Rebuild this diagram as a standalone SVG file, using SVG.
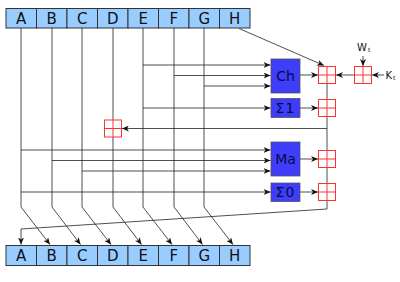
<svg xmlns="http://www.w3.org/2000/svg" width="400" height="282" viewBox="0 0 400 282">
<defs>
<marker id="ar" viewBox="-7 -3 8 6" refX="0" refY="0" markerWidth="8" markerHeight="6" markerUnits="userSpaceOnUse" orient="auto">
<path d="M0,0 L-7,-3 L-5,0 L-7,3 Z" fill="#111"/>
</marker>
<style>
.reg{fill:#99ccff;stroke:#333;stroke-width:1}
.rt{font-family:"DejaVu Sans",sans-serif;font-size:15px;fill:#111;text-anchor:middle}
.op{fill:#3d3dfa;stroke:#555;stroke-width:0.8}
.ot{font-family:"DejaVu Sans",sans-serif;font-size:14px;fill:#0a0a40;text-anchor:middle}
.add rect{fill:#fff;stroke:#f33;stroke-width:1}
.add path{stroke:#f33;stroke-width:1;fill:none}
.c line,.c polyline{stroke:#222;stroke-width:0.8;fill:none}
.a{marker-end:url(#ar)}
.wk{font-family:"DejaVu Sans",sans-serif;font-size:10px;fill:#111}
</style>
</defs>
<g class="c" id="connectors">
<line x1="21" y1="28" x2="21" y2="207"/>
<line x1="52" y1="28" x2="52" y2="207"/>
<line x1="82" y1="28" x2="82" y2="207"/>
<line x1="113" y1="28" x2="113" y2="207"/>
<line x1="143" y1="28" x2="143" y2="207"/>
<line x1="174" y1="28" x2="174" y2="207"/>
<line x1="204" y1="28" x2="204" y2="207"/>
<line class="a" x1="21" y1="207" x2="50" y2="244.5"/>
<line class="a" x1="52" y1="207" x2="80.5" y2="244.5"/>
<line class="a" x1="82" y1="207" x2="111" y2="244.5"/>
<line class="a" x1="113" y1="207" x2="141.5" y2="244.5"/>
<line class="a" x1="143" y1="207" x2="172" y2="244.5"/>
<line class="a" x1="174" y1="207" x2="202.5" y2="244.5"/>
<line class="a" x1="204" y1="207" x2="233" y2="244.5"/>
<polyline class="a" points="327,209 21,229 21,244.5"/>
<line x1="327" y1="83" x2="327" y2="209"/>
<line class="a" x1="239" y1="28.5" x2="324" y2="65.5"/>
<line class="a" x1="143" y1="65" x2="270.5" y2="65"/>
<line class="a" x1="174" y1="75.5" x2="270.5" y2="75.5"/>
<line class="a" x1="204" y1="86" x2="270.5" y2="86"/>
<line class="a" x1="143" y1="108" x2="270.5" y2="108"/>
<line class="a" x1="300" y1="75" x2="318" y2="75"/>
<line class="a" x1="300" y1="108" x2="318" y2="108"/>
<line class="a" x1="327" y1="128.5" x2="122" y2="128.5"/>
<line class="a" x1="21" y1="150" x2="270.5" y2="150"/>
<line class="a" x1="52" y1="160.5" x2="270.5" y2="160.5"/>
<line class="a" x1="82" y1="171" x2="270.5" y2="171"/>
<line class="a" x1="300" y1="159" x2="318" y2="159"/>
<line class="a" x1="21" y1="192" x2="270.5" y2="192"/>
<line class="a" x1="300" y1="192" x2="318" y2="192"/>
<line class="a" x1="354.5" y1="75" x2="336" y2="75"/>
<line class="a" x1="363" y1="56" x2="363" y2="66"/>
<line class="a" x1="384" y1="75" x2="372" y2="75"/>
</g>
<g id="top">
<rect class="reg" x="6" y="8.5" width="30.5" height="19.5"/><text class="rt" x="21.25" y="24">A</text>
<rect class="reg" x="36.5" y="8.5" width="30.5" height="19.5"/><text class="rt" x="51.75" y="24">B</text>
<rect class="reg" x="67" y="8.5" width="30.5" height="19.5"/><text class="rt" x="82.25" y="24">C</text>
<rect class="reg" x="97.5" y="8.5" width="30.5" height="19.5"/><text class="rt" x="112.75" y="24">D</text>
<rect class="reg" x="128" y="8.5" width="30.5" height="19.5"/><text class="rt" x="143.25" y="24">E</text>
<rect class="reg" x="158.5" y="8.5" width="30.5" height="19.5"/><text class="rt" x="173.75" y="24">F</text>
<rect class="reg" x="189" y="8.5" width="30.5" height="19.5"/><text class="rt" x="204.25" y="24">G</text>
<rect class="reg" x="219.5" y="8.5" width="30.5" height="19.5"/><text class="rt" x="234.75" y="24">H</text>
</g>
<g id="bottom">
<rect class="reg" x="6" y="245.5" width="30.5" height="20"/><text class="rt" x="21.25" y="261">A</text>
<rect class="reg" x="36.5" y="245.5" width="30.5" height="20"/><text class="rt" x="51.75" y="261">B</text>
<rect class="reg" x="67" y="245.5" width="30.5" height="20"/><text class="rt" x="82.25" y="261">C</text>
<rect class="reg" x="97.5" y="245.5" width="30.5" height="20"/><text class="rt" x="112.75" y="261">D</text>
<rect class="reg" x="128" y="245.5" width="30.5" height="20"/><text class="rt" x="143.25" y="261">E</text>
<rect class="reg" x="158.5" y="245.5" width="30.5" height="20"/><text class="rt" x="173.75" y="261">F</text>
<rect class="reg" x="189" y="245.5" width="30.5" height="20"/><text class="rt" x="204.25" y="261">G</text>
<rect class="reg" x="219.5" y="245.5" width="30.5" height="20"/><text class="rt" x="234.75" y="261">H</text>
</g>
<g id="ch"><rect class="op" x="271" y="59" width="29" height="34"/><text class="ot" x="285.5" y="81">Ch</text></g>
<g id="s1"><rect class="op" x="271" y="98.5" width="29" height="19"/><text class="ot" x="285.5" y="113" font-size="13.5" letter-spacing="1">Σ1</text></g>
<g id="ma"><rect class="op" x="271" y="142" width="29" height="34"/><text class="ot" x="285.5" y="164">Ma</text></g>
<g id="s0"><rect class="op" x="271" y="183" width="29" height="18.5"/><text class="ot" x="285.5" y="197" font-size="13.5" letter-spacing="1">Σ0</text></g>
<g id="add1" class="add"><rect x="318.5" y="66.5" width="17" height="17"/><path d="M327,66.5V83.5M318.5,75H335.5"/></g>
<g id="add2" class="add"><rect x="318.5" y="99.5" width="17" height="17"/><path d="M327,99.5V116.5M318.5,108H335.5"/></g>
<g id="add3" class="add"><rect x="318.5" y="150.5" width="17" height="17"/><path d="M327,150.5V167.5M318.5,159H335.5"/></g>
<g id="add4" class="add"><rect x="318.5" y="183.5" width="17" height="17"/><path d="M327,183.5V200.5M318.5,192H335.5"/></g>
<g id="addE" class="add"><rect x="104.5" y="120" width="17" height="17"/><path d="M113,120V137M104.5,128.5H121.5"/></g>
<g id="addWK" class="add"><rect x="354.5" y="66.5" width="17" height="17"/><path d="M363,66.5V83.5M354.5,75H371.5"/></g>
<g id="wt"><text class="wk" x="357" y="51">W<tspan font-size="6" dx="1" dy="1">t</tspan></text></g>
<g id="kt"><text class="wk" x="385.5" y="79">K<tspan font-size="6" dx="1" dy="1">t</tspan></text></g>
</svg>
